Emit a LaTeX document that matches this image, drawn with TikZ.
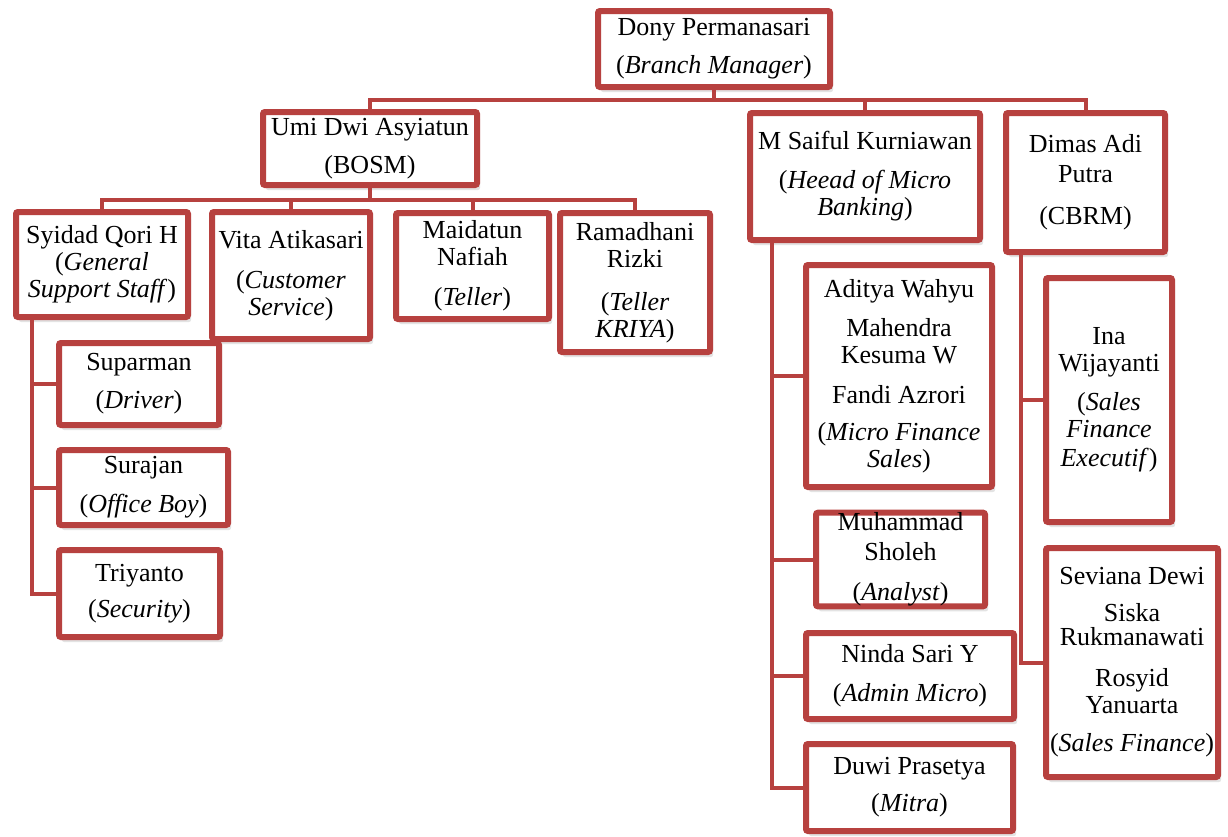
\documentclass[tikz,border=0pt]{standalone}
\usepackage{fontspec}
\setmainfont{Liberation Serif}
\usetikzlibrary{shadows}
\definecolor{chart-red}{RGB}{183, 65, 63}

\begin{document}
\begin{tikzpicture}[x=1pt, y=-1pt,
        box/.style={draw=chart-red, line width=6pt, fill=white, rounded corners=2pt,
            inner sep=0pt, align=center, font=\fontsize{26}{27}\selectfont,
            drop shadow={shadow xshift=3pt, shadow yshift=-5pt, fill=black!22}},
        dims/.style 2 args={minimum width=#1pt, minimum height=#2pt},
        link/.style={draw=chart-red, line width=4pt}]
    \useasboundingbox (0,0) rectangle (1228,836);
    % top level
    \node[box, dims={232}{76}] (dony) at (714,49) {Dony Permanasari\\[11pt](\textit{Branch Manager})};
    \node[box, dims={214}{73}] (umi) at (370,148.5) {Umi Dwi Asyiatun\\[11pt](BOSM)};
    \node[box, dims={230}{127}] (saiful) at (865,176.5) {M Saiful Kurniawan\\[12pt](\textit{Heead of Micro}\\\textit{Banking})};
    \node[box, dims={159}{139}] (dimas) at (1085.5,182.5) {Dimas Adi\\[3pt]Putra\\[15pt](CBRM)};
    % under BOSM
    \node[box, dims={172}{105}] (syidad) at (102,264.5) {Syidad Qori H\\(\textit{General}\\\textit{Support Staff})};
    \node[box, dims={158}{127}] (vita) at (291,275.5) {Vita Atikasari\\[13pt](\textit{Customer}\\\textit{Service})};
    \node[box, dims={153}{106}] (maidatun) at (472.5,266) {Maidatun\\Nafiah\\[13pt](\textit{Teller})};
    \node[box, dims={150}{139}] (ramadhani) at (635,282.5) {Ramadhani\\Rizki\\[16pt](\textit{Teller}\\\textit{KRIYA})};
    \node[box, dims={160}{82}] (suparman) at (139,384) {Suparman\\[11pt](\textit{Driver})};
    \node[box, dims={169}{75}] (surajan) at (143.5,487.5) {Surajan\\[12pt](\textit{Office Boy})};
    \node[box, dims={161}{87}] (triyanto) at (139.5,593.5) {Triyanto\\[9pt](\textit{Security})};
    % micro banking
    \node[box, dims={186}{222}] (aditya) at (899,376) {Aditya Wahyu\\[12pt]Mahendra\\Kesuma W\\[13pt]Fandi Azrori\\[10pt](\textit{Micro Finance}\\\textit{Sales})};
    \node[box, dims={169}{93}] (muhammad) at (900.5,559.5) {Muhammad\\[3pt]Sholeh\\[13pt](\textit{Analyst})};
    \node[box, dims={208}{86}] (ninda) at (910,676) {Ninda Sari Y\\[12pt](\textit{Admin Micro})};
    \node[box, dims={207}{87}] (duwi) at (909.5,787.5) {Duwi Prasetya\\[10pt](\textit{Mitra})};
    % CBRM
    \node[box, dims={126}{244}] (ina) at (1109,400) {Ina\\Wijayanti\\[12pt](\textit{Sales}\\\textit{Finance}\\[2pt]\textit{Executif})};
    \node[box, dims={172}{229}] (seviana) at (1132,662.5) {Seviana Dewi\\[10pt]Siska\\[-3pt]Rukmanawati\\[14pt]Rosyid\\Yanuarta\\[11pt](\textit{Sales Finance})};

    % buses and trunks
    \coordinate (topbus) at (714,100);
    \coordinate (umibus) at (370,200);
    \coordinate (syidadtrunk) at (32,0);
    \coordinate (saifultrunk) at (772,0);
    \coordinate (dimastrunk) at (1021,0);

    \draw[link] (dony.south) -- (dony.south |- topbus);
    \draw[link] (umi.north) -- (umi.north |- topbus) -| (dimas.north);
    \draw[link] (saiful.north) -- (saiful.north |- topbus);

    \draw[link] (umi.south) -- (umi.south |- umibus);
    \draw[link] (syidad.north) -- (syidad.north |- umibus) -| (ramadhani.north);
    \draw[link] (vita.north) -- (vita.north |- umibus);
    \draw[link] (maidatun.north) -- (maidatun.north |- umibus);

    \draw[link] (syidad.south -| syidadtrunk) |- (triyanto.west);
    \draw[link] (suparman.west) -- (suparman.west -| syidadtrunk);
    \draw[link] (surajan.west) -- (surajan.west -| syidadtrunk);

    \draw[link] (saiful.south -| saifultrunk) |- (duwi.west);
    \draw[link] (aditya.west) -- (aditya.west -| saifultrunk);
    \draw[link] (muhammad.west) -- (muhammad.west -| saifultrunk);
    \draw[link] (ninda.west) -- (ninda.west -| saifultrunk);

    \draw[link] (dimas.south -| dimastrunk) |- (seviana.west);
    \draw[link] (ina.west) -- (ina.west -| dimastrunk);
\end{tikzpicture}
\end{document}
